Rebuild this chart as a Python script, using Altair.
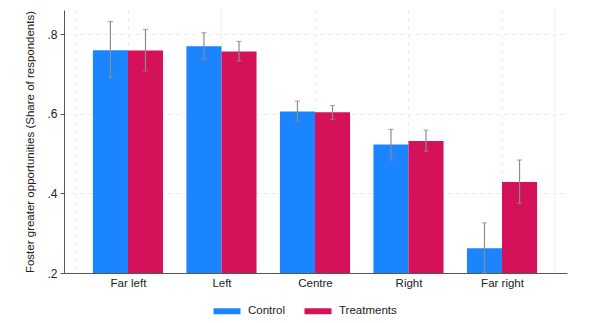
import altair as alt
import pandas as pd

categories = ["Far left", "Left", "Centre", "Right", "Far right"]
positions = [1, 2, 3, 4, 5]
groups = ["Control", "Treatments"]

control_mean = [0.760, 0.770, 0.606, 0.523, 0.262]
control_lo = [0.691, 0.737, 0.581, 0.484, 0.200]
control_hi = [0.832, 0.804, 0.632, 0.561, 0.326]

treat_mean = [0.759, 0.757, 0.604, 0.532, 0.429]
treat_lo = [0.708, 0.733, 0.586, 0.506, 0.375]
treat_hi = [0.812, 0.782, 0.621, 0.559, 0.484]

bar_half = 0.375  # bar width in category units
x_domain = [0.316, 5.695]
grid_vals = [0.44, 1, 2, 3, 4, 5, 5.56]

rows = []
for i, c in enumerate(categories):
    p = positions[i]
    rows.append(dict(cat=c, pos=p, group="Control", x0=p - bar_half, x1=p,
                     xm=p - bar_half / 2, mean=control_mean[i],
                     lo=control_lo[i], hi=control_hi[i]))
    rows.append(dict(cat=c, pos=p, group="Treatments", x0=p, x1=p + bar_half,
                     xm=p + bar_half / 2, mean=treat_mean[i],
                     lo=treat_lo[i], hi=treat_hi[i]))
df = pd.DataFrame(rows)

label_expr = ("datum.value==1?'Far left':datum.value==2?'Left':datum.value==3?'Centre':"
              "datum.value==4?'Right':datum.value==5?'Far right':''")

xscale = alt.Scale(domain=x_domain, nice=False, zero=False)
yscale = alt.Scale(domain=[0.2, 0.861], nice=False, zero=False)

FS = 11.5

base = alt.Chart(df)

bars = base.mark_bar(stroke=None).encode(
    x=alt.X("x0:Q", scale=xscale,
            axis=alt.Axis(values=grid_vals, labelExpr=label_expr, title=None,
                          ticks=False, grid=True, gridDash=[4, 4],
                          gridColor="#ececec", domainColor="#555555",
                          labelFont="Liberation Sans", labelFontSize=FS,
                          labelColor="#222222", labelPadding=4)),
    x2="x1:Q",
    y=alt.Y("mean:Q", scale=yscale,
            axis=alt.Axis(values=[0.2, 0.4, 0.6, 0.8],
                          labelExpr="substring(format(datum.value, '.1f'), 1)",
                          title="Foster greater opportunities (Share of respondents)",
                          titleFont="Liberation Sans", titleFontSize=FS,
                          titleFontWeight="normal", titleColor="#222222",
                          titlePadding=11,
                          grid=True, gridDash=[4, 4], gridColor="#ececec",
                          domainColor="#555555", tickColor="#555555", tickSize=4,
                          labelFont="Liberation Sans", labelFontSize=FS + 0.5,
                          labelColor="#222222", labelPadding=3)),
    y2=alt.Y2("mean0:Q"),
    color=alt.Color("group:N", scale=alt.Scale(domain=groups,
                                               range=["#1a85ff", "#d41159"]),
                    legend=alt.Legend(title=None, orient="none", direction="horizontal",
                                      legendX=154, legendY=292,
                                      symbolType="M-1.5,-0.333H1.5V0.333H-1.5Z",
                                      symbolSize=324, symbolStrokeWidth=0,
                                      symbolOpacity=1,
                                      labelFont="Liberation Sans", labelFontSize=FS,
                                      labelColor="#222222", labelOffset=12,
                                      columnPadding=18, padding=0)),
).transform_calculate(mean0="0.2")

err = base.mark_rule(color="#8c8c8c", strokeWidth=1.2).encode(
    x="xm:Q", y="lo:Q", y2="hi:Q")
cap_lo = base.mark_tick(color="#8c8c8c", orient="horizontal", size=5, thickness=1.2).encode(
    x="xm:Q", y="lo:Q")
cap_hi = base.mark_tick(color="#8c8c8c", orient="horizontal", size=5, thickness=1.2).encode(
    x="xm:Q", y="hi:Q")

chart = alt.layer(bars, err, cap_lo, cap_hi).properties(
    width=503, height=263,
    background="white",
    autosize=alt.AutoSizeParams(type="none"),
    padding={"left": 64, "top": 10, "right": 35, "bottom": 50},
).configure_view(stroke=None)

chart.save("out.html", embed_options={"renderer": "svg", "actions": False})
